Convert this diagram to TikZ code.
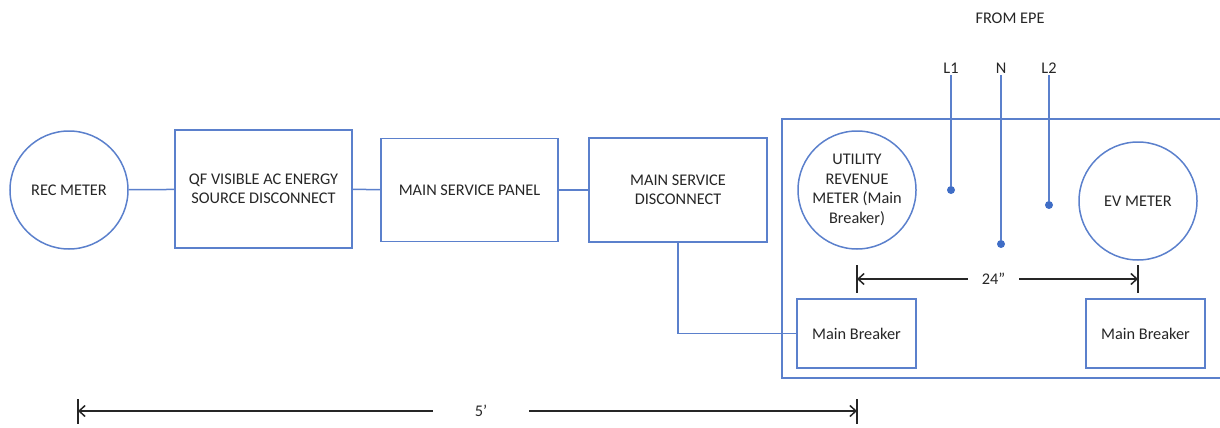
\documentclass[tikz,border=0pt]{standalone}
\usepackage{fontspec}
\setmainfont{Carlito}
\usepackage{xcolor}
\usepackage{tikz}
\usetikzlibrary{shapes,arrows,arrows.meta,positioning}

\definecolor{lineblue}{HTML}{5B80CC}
\definecolor{dotblue}{HTML}{3F6DC6}
\definecolor{txtgray}{HTML}{262626}

\tikzset{
    wire/.style={draw=lineblue, line width=1.5pt},
    meter/.style={circle, draw=lineblue, line width=1.5pt, minimum size=118pt, inner sep=0pt,
        align=center, text=txtgray, font=\fontsize{16.3}{19.5}\selectfont},
    unit/.style={rectangle, draw=lineblue, line width=1.5pt, inner sep=0pt,
        align=center, text=txtgray, font=\fontsize{16.3}{19.5}\selectfont},
    tag/.style={text=txtgray, inner sep=2pt, font=\fontsize{16.3}{19.5}\selectfont},
    tap/.style={circle, fill=dotblue, inner sep=0pt, minimum size=8pt},
    dim/.style={draw=black!85, line width=1.5pt, >={Straight Barb[length=6pt,width=11pt]}},
    dimtext/.style={text=txtgray, inner sep=0pt, font=\fontsize{16.3}{19.5}\selectfont}
}

\begin{document}
\begin{tikzpicture}[x=1pt,y=-1pt]
    \useasboundingbox (0,0) rectangle (1220,428);

    % Meters and boxes
    \node[meter] (rec) at (69,190) {REC METER};
    \node[unit, minimum width=177pt, minimum height=118pt] (qf) at (263.5,189) {QF VISIBLE AC ENERGY\\SOURCE DISCONNECT};
    \node[unit, minimum width=177pt, minimum height=103pt] (msp) at (469.5,190) {MAIN SERVICE PANEL};
    \node[unit, minimum width=178pt, minimum height=104pt] (msd) at (678,190) {MAIN SERVICE\\DISCONNECT};

    % Enclosure
    \draw[wire] (1221,119) -- (782,119) -- (782,378) -- (1221,378);
    \node[meter] (util) at (857,190) {UTILITY\\REVENUE\\METER (Main\\Breaker)};
    \node[meter] (ev) at (1138,201) {EV METER};
    \node[unit, minimum width=119pt, minimum height=69pt] (mb1) at (856.5,333.5) {Main Breaker};
    \node[unit, minimum width=119pt, minimum height=69pt] (mb2) at (1145.5,333.5) {Main Breaker};

    % Service conductors
    \node[tag] (epe) at (1010,18) {FROM EPE};
    \node[tag] (l1) at (951,68) {L1};
    \node[tag] (n) at (1001,68) {N};
    \node[tag] (l2) at (1049,68) {L2};
    \node[tap] (t1) at (951,190) {};
    \node[tap] (tn) at (1001,244) {};
    \node[tap] (t2) at (1049,205) {};
    \draw[wire] (l1) -- (t1);
    \draw[wire] (n) -- (tn);
    \draw[wire] (l2) -- (t2);

    % Connections
    \draw[wire] (rec) -- (qf);
    \draw[wire] (qf) -- (msp);
    \draw[wire] (msp) -- (msd);
    \draw[wire] (msd.south) |- (mb1.west);

    % Dimensions
    \coordinate (a1) at (857,279);
    \coordinate (a2) at (1138,279);
    \draw[dim] (857,265) -- (857,293);
    \draw[dim] (1138,265) -- (1138,293);
    \node[dimtext, minimum width=51pt] (d24) at (993.5,279) {24''};
    \draw[dim,<-] (a1) -- (d24);
    \draw[dim,->] (d24) -- (a2);

    \coordinate (b1) at (78,411);
    \coordinate (b2) at (857,411);
    \draw[dim] (78,399) -- (78,424);
    \draw[dim] (857,399) -- (857,424);
    \node[dimtext, minimum width=96pt] (d5) at (481,411) {5'};
    \draw[dim,<-] (b1) -- (d5);
    \draw[dim,->] (d5) -- (b2);
\end{tikzpicture}
\end{document}
